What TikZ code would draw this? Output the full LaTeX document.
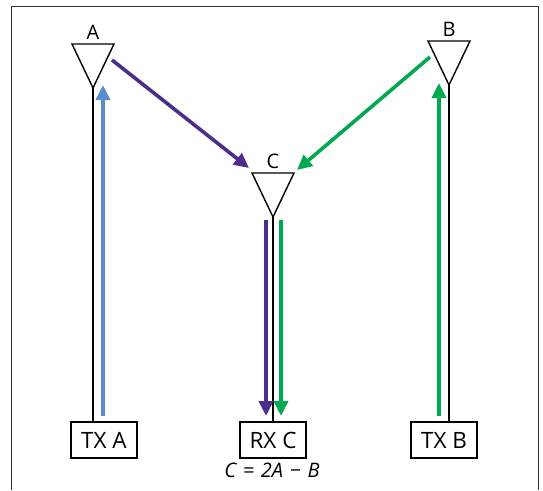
\documentclass[tikz,border=0pt]{standalone}
\usepackage[RGB]{xcolor}
\usepackage{fontspec}
\setmainfont{Open Sans}
\usetikzlibrary{arrows.meta}
\definecolor{P}{RGB}{75,45,140}
\definecolor{L}{RGB}{90,140,208}
\definecolor{G}{RGB}{0,168,80}
\newcommand{\drawarrow}[1]{\draw[line width=3.6pt,#1,-{Triangle[length=15pt,width=14pt]}]}
\newcommand{\antenna}[3]{
    \coordinate (#1) at (#2,#3);
    \draw[line width=1.4pt,line join=miter] (#1)--++(-21,-44)--++(42,0)--cycle;
    \path (#1)++(0,-48) node[anchor=south,inner sep=0pt,font=\fontsize{20}{23}\selectfont] (lbl#1) {#1};
}
\tikzset{box/.style={draw,line width=1.4pt,minimum width=66pt,minimum height=36pt,inner sep=0pt,font=\fontsize{22.5}{26}\selectfont}}

\begin{document}
\begin{tikzpicture}[x=1pt,y=-1pt]
\useasboundingbox (0,0) rectangle (543,490);
\draw[line width=1pt,black!80] (11,490)--(11,6)--(538,6)--(538,490);
\antenna{A}{93}{88}\antenna{C}{273}{217}\antenna{B}{449}{85}
\node[box] (txa) at (104,440) {TX A};
\node[box] (rxc) at (273,440) {RX C};
\node[box] (txb) at (444,440) {TX B};
\node[font=\fontsize{20}{23}\selectfont\itshape] (eq) at (272,470) {C\,\,=\,\,2A\,\,−\,\,B};
\draw[line width=1.4pt] (A)--(A |- txa.north);
\draw[line width=1.4pt] (C)--(C |- rxc.north);
\draw[line width=1.4pt] (B)--(B |- txb.north);
\coordinate (a0) at (103,416);\coordinate (a1) at (103,85);
\coordinate (b0) at (439,416);\coordinate (b1) at (439,83);
\coordinate (p0) at (112,60);\coordinate (p1) at (249,168);
\coordinate (g0) at (430,57);\coordinate (g1) at (297,170);
\coordinate (c0) at (266,220);\coordinate (c1) at (266,416);
\coordinate (d0) at (281,220);\coordinate (d1) at (281,416);
\drawarrow{L} (a0)--(a1);
\drawarrow{G} (b0)--(b1);
\drawarrow{P} (p0)--(p1);
\drawarrow{G} (g0)--(g1);
\drawarrow{P} (c0)--(c1);
\drawarrow{G} (d0)--(d1);
\end{tikzpicture}
\end{document}
